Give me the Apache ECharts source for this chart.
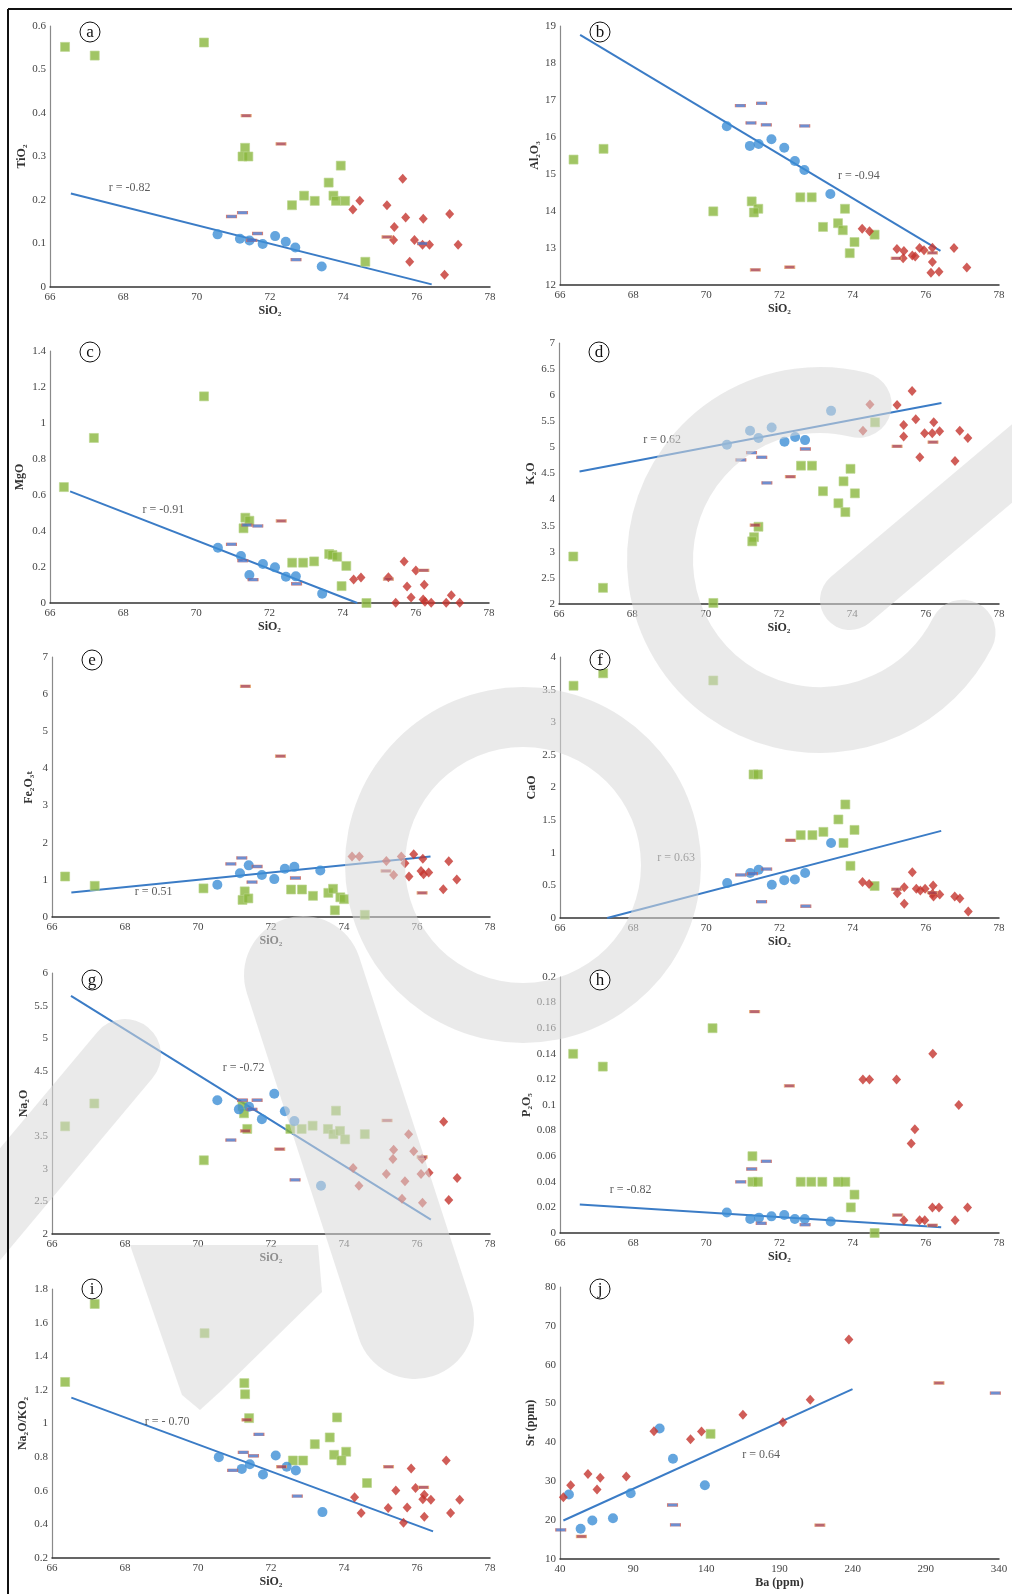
<!DOCTYPE html>
<html>
<head>
<meta charset="utf-8">
<script src="https://cdn.jsdelivr.net/npm/echarts@6/dist/echarts.min.js"></script>
<style>
html, body { margin: 0; padding: 0; background: #fff; }
#chart { width: 1012px; height: 1594px; }
</style>
</head>
<body>
<div id="chart"></div>
<script>
// ---- (a) TiO2 vs SiO2 ----
const aGreen = [[66.41,0.552],[67.22,0.532],[70.2,0.562],[71.32,0.32],[71.25,0.30],[71.41,0.30],[73.93,0.279],[73.6,0.24],[73.73,0.21],[73.8,0.198],[74.05,0.198],[72.93,0.21],[73.22,0.198],[72.6,0.188],[74.6,0.058]];
const aBlue = [[70.57,0.121],[71.18,0.111],[71.44,0.107],[71.8,0.099],[72.14,0.117],[72.43,0.104],[72.69,0.091],[73.41,0.047]];
const aRed = [[74.26,0.178],[74.45,0.198],[75.19,0.188],[75.62,0.249],[75.39,0.138],[75.7,0.16],[76.18,0.157],[76.9,0.168],[75.37,0.108],[75.94,0.108],[76.16,0.097],[76.35,0.097],[77.13,0.097],[75.81,0.058],[76.76,0.028]];
const aDashB = [[70.95,0.162],[71.25,0.171],[71.66,0.123],[71.5,0.107],[72.71,0.063],[76.16,0.10]];
const aDashR = [[71.35,0.394],[72.3,0.329],[75.19,0.115]];
const aTrend = [[66.57,0.215],[76.41,0.006]];
const aR = [67.6,0.229];

// ---- (b) Al2O3 ----
const bGreen = [[66.37,15.39],[67.19,15.68],[70.19,13.99],[71.24,14.26],[71.42,14.06],[71.3,13.96],[72.57,14.37],[72.88,14.37],[73.79,14.06],[73.19,13.57],[73.6,13.67],[73.73,13.48],[74.6,13.36],[74.05,13.16],[73.92,12.86]];
const bBlue = [[70.56,16.29],[71.19,15.76],[71.43,15.81],[71.78,15.94],[72.13,15.71],[72.42,15.35],[72.68,15.11],[73.39,14.46]];
const bRed = [[74.26,13.52],[74.46,13.45],[75.21,12.97],[75.4,12.92],[75.38,12.72],[75.63,12.8],[75.71,12.77],[75.83,13.0],[75.95,12.94],[76.18,13.01],[76.18,12.62],[76.14,12.33],[76.36,12.36],[76.77,13.0],[77.12,12.47]];
const bDashB = [[70.93,16.85],[71.51,16.91],[71.22,16.38],[71.64,16.33],[72.69,16.30]];
const bDashR = [[71.34,12.41],[72.28,12.48],[75.19,12.72],[76.18,12.87]];
const bTrend = [[66.55,18.76],[76.4,12.92]];
const bR = [73.6,14.96];

// ---- (c) MgO ----
const cGreen = [[66.38,0.644],[67.2,0.917],[70.21,1.148],[71.34,0.474],[71.45,0.457],[71.29,0.415],[72.62,0.224],[72.92,0.224],[73.22,0.231],[73.63,0.272],[73.72,0.267],[73.85,0.257],[74.1,0.206],[73.97,0.094],[74.65,0.0]];
const cBlue = [[70.59,0.307],[71.22,0.261],[71.45,0.156],[71.82,0.217],[72.15,0.198],[72.45,0.146],[72.72,0.148],[73.44,0.052]];
const cRed = [[74.3,0.13],[74.5,0.141],[75.25,0.143],[75.68,0.23],[76.0,0.18],[75.76,0.091],[76.23,0.102],[75.87,0.03],[75.45,0.002],[76.2,0.02],[76.25,0.007],[76.42,0.002],[76.83,0.002],[76.97,0.043],[77.2,0.002]];
const cDashB = [[70.96,0.326],[71.38,0.433],[71.68,0.428],[71.27,0.235],[71.55,0.13],[72.74,0.107]];
const cDashR = [[72.32,0.456],[75.25,0.133],[76.22,0.181]];
const cTrend = [[66.55,0.62],[74.4,0]];
const cR = [68.53,0.52];

// ---- (d) K2O ----
const dGreen = [[66.39,2.91],[67.2,2.31],[70.21,2.02],[71.44,3.48],[71.32,3.28],[71.27,3.2],[72.6,4.65],[72.9,4.65],[73.95,4.59],[73.76,4.35],[73.2,4.16],[74.07,4.12],[73.62,3.93],[73.81,3.76],[74.62,5.48]];
const dBlue = [[70.58,5.05],[71.21,5.32],[71.8,5.38],[71.44,5.18],[72.15,5.11],[72.44,5.2],[72.71,5.14],[73.42,5.7]];
const dRed = [[74.48,5.82],[74.29,5.32],[75.22,5.81],[75.63,6.08],[75.4,5.43],[75.4,5.21],[75.73,5.54],[76.22,5.48],[75.97,5.27],[76.18,5.27],[76.38,5.31],[75.84,4.81],[76.93,5.32],[77.15,5.18],[76.8,4.74]];
const dDashB = [[70.96,4.76],[71.25,4.9],[71.53,4.81],[71.67,4.32],[72.72,4.97]];
const dDashR = [[72.31,4.44],[71.35,3.51],[75.22,5.02],[76.2,5.1]];
const dTrend = [[66.56,4.54],[76.43,5.85]];
const dR = [68.3,5.14];

// ---- (e) Fe2O3T ----
const eGreen = [[66.36,1.09],[67.17,0.84],[70.15,0.77],[71.28,0.69],[71.22,0.46],[71.38,0.5],[72.55,0.74],[72.85,0.74],[73.15,0.57],[73.57,0.65],[73.7,0.76],[73.9,0.53],[74.0,0.48],[73.75,0.18],[74.57,0.06]];
const eBlue = [[70.53,0.87],[71.15,1.18],[71.39,1.39],[71.75,1.13],[72.09,1.02],[72.38,1.30],[72.64,1.35],[73.35,1.25]];
const eRed = [[74.22,1.63],[74.42,1.63],[75.16,1.51],[75.36,1.13],[75.57,1.63],[75.67,1.45],[75.78,1.09],[75.91,1.69],[76.16,1.57],[76.11,1.24],[76.18,1.15],[76.32,1.2],[76.87,1.5],[76.72,0.75],[77.09,1.01]];
const eDashB = [[70.9,1.43],[71.2,1.59],[71.62,1.36],[71.48,0.94],[72.67,1.05]];
const eDashR = [[71.3,6.21],[72.26,4.33],[75.15,1.24],[76.14,0.65]];
const eTrend = [[66.53,0.66],[76.37,1.63]];
const eR = [68.27,0.68];

// ---- (f) CaO ----
const fGreen = [[66.37,3.56],[67.18,3.75],[70.19,3.64],[71.29,2.2],[71.41,2.2],[72.58,1.27],[72.9,1.27],[73.2,1.32],[73.8,1.74],[73.61,1.51],[74.05,1.35],[73.75,1.15],[73.94,0.8],[74.6,0.49]];
const fBlue = [[70.57,0.535],[71.2,0.69],[71.43,0.74],[71.79,0.51],[72.13,0.58],[72.42,0.59],[72.7,0.69],[73.41,1.15]];
const fRed = [[74.27,0.55],[74.45,0.52],[75.22,0.38],[75.41,0.47],[75.41,0.22],[75.63,0.7],[75.74,0.45],[75.85,0.42],[75.98,0.45],[76.2,0.5],[76.18,0.37],[76.21,0.33],[76.38,0.36],[76.79,0.33],[76.93,0.3],[77.16,0.1]];
const fDashB = [[70.94,0.66],[71.26,0.68],[71.65,0.75],[71.51,0.25],[72.72,0.18]];
const fDashR = [[72.3,1.19],[75.2,0.44],[76.18,0.39]];
const fTrend = [[67.29,0],[76.42,1.335]];
const fR = [68.66,0.92];

// ---- (g) Na2O ----
const gGreen = [[66.36,3.65],[67.16,4.0],[70.16,3.13],[71.22,3.96],[71.26,3.85],[71.35,3.61],[72.53,3.61],[72.84,3.61],[73.14,3.66],[73.56,3.61],[73.71,3.53],[73.89,3.58],[73.78,3.89],[74.03,3.45],[74.57,3.53]];
const gBlue = [[70.53,4.05],[71.12,3.91],[71.4,3.95],[71.75,3.76],[72.09,4.15],[72.38,3.88],[72.64,3.73],[73.37,2.74]];
const gRed = [[74.25,3.01],[74.41,2.74],[75.16,2.92],[75.36,3.29],[75.34,3.15],[75.77,3.53],[75.91,3.27],[75.67,2.81],[75.59,2.54],[76.14,3.15],[76.11,2.92],[76.33,2.94],[76.15,2.48],[76.87,2.52],[76.73,3.72],[77.1,2.86]];
const gDashB = [[71.22,4.05],[71.62,4.05],[71.48,3.91],[70.9,3.44],[72.66,2.83]];
const gDashR = [[71.3,3.58],[72.24,3.3],[75.18,3.74],[76.14,3.18]];
const gTrend = [[66.52,5.65],[76.38,2.22]];
const gR = [70.68,4.54];

// ---- (h) P2O5 ----
const hGreen = [[66.36,0.14],[67.17,0.13],[70.17,0.16],[71.26,0.06],[71.26,0.04],[71.41,0.04],[72.58,0.04],[72.87,0.04],[73.17,0.04],[73.6,0.04],[73.8,0.04],[74.05,0.03],[73.95,0.02],[74.6,0.0]];
const hBlue = [[70.56,0.016],[71.2,0.011],[71.44,0.012],[71.78,0.013],[72.13,0.014],[72.42,0.011],[72.69,0.011],[73.4,0.009]];
const hRed = [[74.28,0.12],[74.46,0.12],[75.2,0.12],[76.19,0.14],[76.9,0.1],[75.7,0.081],[75.6,0.07],[76.18,0.02],[76.36,0.02],[77.14,0.02],[75.4,0.01],[75.83,0.01],[75.97,0.01],[76.8,0.01]];
const hDashB = [[70.94,0.04],[71.24,0.05],[71.64,0.056],[71.5,0.0075],[72.7,0.0065]];
const hDashR = [[71.32,0.173],[72.27,0.115],[75.23,0.014],[76.18,0.006]];
const hTrend = [[66.54,0.0223],[76.42,0.0044]];
const hR = [67.36,0.034];

// ---- (i) Na2O/K2O ----
const iGreen = [[66.36,1.247],[67.17,1.711],[70.18,1.537],[71.27,1.24],[71.29,1.174],[71.4,1.032],[72.6,0.78],[72.88,0.78],[73.2,0.877],[73.61,0.917],[73.81,1.036],[74.06,0.832],[73.73,0.814],[73.93,0.78],[74.63,0.646]];
const iBlue = [[70.57,0.8],[71.2,0.73],[71.42,0.758],[71.78,0.697],[72.13,0.81],[72.43,0.743],[72.68,0.721],[73.41,0.473]];
const iRed = [[74.29,0.562],[74.47,0.467],[75.21,0.497],[75.42,0.602],[75.84,0.733],[75.96,0.616],[75.73,0.501],[75.63,0.41],[76.2,0.576],[76.16,0.55],[76.38,0.547],[76.2,0.446],[76.8,0.78],[76.92,0.467],[77.17,0.547]];
const iDashB = [[71.67,0.935],[71.24,0.828],[71.52,0.808],[70.95,0.721],[72.72,0.568]];
const iDashR = [[71.34,1.022],[72.29,0.743],[75.22,0.743],[76.18,0.62]];
const iTrend = [[66.53,1.154],[76.44,0.358]];
const iR = [68.54,1.008];

// ---- (j) Sr vs Ba ----
const jGreen = [[142.9,42.2]];
const jBlue = [[46.1,26.6],[54.1,17.8],[62.1,19.9],[76.2,20.5],[88.3,26.9],[108.1,43.6],[117.2,35.8],[139.0,29.0]];
const jRed = [[42.3,25.9],[47.3,29.0],[59.1,31.9],[67.5,30.9],[65.3,27.9],[85.3,31.2],[104.2,42.9],[129.2,40.8],[136.7,42.8],[165.0,47.1],[192.3,45.2],[211.0,51.0],[237.4,66.5]];
const jDashB = [[40.5,17.5],[116.9,23.9],[118.9,18.8],[337.5,52.7]];
const jDashR = [[54.6,15.8],[217.6,18.7],[299.0,55.3]];
const jTrend = [[42.3,19.9],[239.9,53.7]];
const jR = [164.5,36.8];

const panelLetters = ['a','b','c','d','e','f','g','h','i','j'];
const yNames = ['TiO₂','Al₂O₃','MgO','K₂O','Fe₂O₃ₜ','CaO','Na₂O','P₂O₅','Na₂O/KO₂','Sr (ppm)'];
const xNames = ['SiO₂','SiO₂','SiO₂','SiO₂','SiO₂','SiO₂','SiO₂','SiO₂','SiO₂','Ba (ppm)'];
const rTexts = ['r = -0.82','r = -0.94','r = -0.91','r = 0.62','r = 0.51','r = 0.63','r = -0.72','r = -0.82','r = - 0.70','r = 0.64'];
// [min, max, interval]
const xRanges = [[66,78,2],[66,78,2],[66,78,2],[66,78,2],[66,78,2],[66,78,2],[66,78,2],[66,78,2],[66,78,2],[40,340,50]];
const yRanges = [[0,0.6,0.1],[12,19,1],[0,1.4,0.2],[2,7,0.5],[0,7,1],[0,4,0.5],[2,6,0.5],[0,0.2,0.02],[0.2,1.8,0.2],[10,80,10]];

const greens = [aGreen,bGreen,cGreen,dGreen,eGreen,fGreen,gGreen,hGreen,iGreen,jGreen];
const blues = [aBlue,bBlue,cBlue,dBlue,eBlue,fBlue,gBlue,hBlue,iBlue,jBlue];
const reds = [aRed,bRed,cRed,dRed,eRed,fRed,gRed,hRed,iRed,jRed];
const dashBs = [aDashB,bDashB,cDashB,dDashB,eDashB,fDashB,gDashB,hDashB,iDashB,jDashB];
const dashRs = [aDashR,bDashR,cDashR,dDashR,eDashR,fDashR,gDashR,hDashR,iDashR,jDashR];
const trends = [aTrend,bTrend,cTrend,dTrend,eTrend,fTrend,gTrend,hTrend,iTrend,jTrend];
const rPos = [aR,bR,cR,dR,eR,fR,gR,hR,iR,jR];

// layout (px): left, top, width, height, y-name gap, letter dy
const boxes = [
  [50, 26, 440, 261, 20, 6],
  [560, 26, 439, 259, 14, 6],
  [50, 351, 439, 252, 24, 1],
  [559, 343, 440, 261, 18, 9],
  [52, 657, 438, 260, 17, 3],
  [560, 657, 439, 261, 17, 3],
  [52, 973, 438, 261, 19, 7],
  [560, 977, 439, 256, 25, 3],
  [52, 1289, 438, 269, 23, 0],
  [560, 1287, 439, 272, 23, 2]
];

const serif = "'Liberation Serif', 'DejaVu Serif', serif";
// semi-transparent watermark laid over the plots (as in the scanned figure)
const wmColor = 'rgba(216,216,216,0.55)';

const chart = echarts.init(document.getElementById('chart'));

let grids = [], xAxes = [], yAxes = [], series = [], graphics = [];

boxes.forEach((b, i) => {
  grids.push({ left: b[0], top: b[1], width: b[2], height: b[3], outerBoundsMode: 'none' });
  xAxes.push({
    gridIndex: i, type: 'value',
    min: xRanges[i][0], max: xRanges[i][1], interval: xRanges[i][2],
    name: xNames[i], nameLocation: 'middle', nameGap: 18,
    nameTextStyle: { fontFamily: serif, fontWeight: 'bold', fontSize: 12, color: '#333' },
    splitLine: { show: false },
    axisTick: { show: false },
    axisLine: { lineStyle: { color: '#333', width: 1.5 } },
    axisLabel: { fontFamily: serif, fontSize: 11, color: '#444', margin: 5 }
  });
  yAxes.push({
    gridIndex: i, type: 'value',
    min: yRanges[i][0], max: yRanges[i][1], interval: yRanges[i][2],
    name: yNames[i], nameLocation: 'middle', nameGap: b[4],
    nameTextStyle: { fontFamily: serif, fontWeight: 'bold', fontSize: 12, color: '#333' },
    splitLine: { show: false },
    axisTick: { show: false },
    axisLine: { show: true, lineStyle: { color: '#8a8a8a', width: 1.2 } },
    axisLabel: { fontFamily: serif, fontSize: 11, color: '#444', margin: 4 }
  });

  series.push({
    type: 'line', xAxisIndex: i, yAxisIndex: i, data: trends[i],
    showSymbol: false, silent: true, z: 1,
    lineStyle: { color: '#3b7cc6', width: 2 }
  });
  series.push({
    type: 'scatter', xAxisIndex: i, yAxisIndex: i, data: greens[i], clip: false,
    symbol: 'rect', symbolSize: 9, z: 2,
    itemStyle: { color: '#8ab73d', borderColor: '#b9d58c', borderWidth: 0.8 }
  });
  series.push({
    type: 'scatter', xAxisIndex: i, yAxisIndex: i, data: blues[i], clip: false,
    symbol: 'circle', symbolSize: 10, z: 2,
    itemStyle: { color: '#3d8ed6' }
  });
  series.push({
    type: 'scatter', xAxisIndex: i, yAxisIndex: i, data: reds[i], clip: false,
    symbol: 'diamond', symbolSize: [9, 10], z: 2,
    itemStyle: { color: '#c4342e' }
  });
  series.push({
    type: 'scatter', xAxisIndex: i, yAxisIndex: i, data: dashBs[i], clip: false,
    symbol: 'rect', symbolSize: [10, 3], z: 3,
    itemStyle: { color: '#4a72c4', borderColor: '#d36b5f', borderWidth: 0.6 }
  });
  series.push({
    type: 'scatter', xAxisIndex: i, yAxisIndex: i, data: dashRs[i], clip: false,
    symbol: 'rect', symbolSize: [10, 3], z: 3,
    itemStyle: { color: '#a8404e', borderColor: '#eaa86c', borderWidth: 0.6 }
  });
  series.push({
    type: 'scatter', xAxisIndex: i, yAxisIndex: i, data: [rPos[i]], clip: false,
    symbolSize: 0, silent: true, z: 4,
    label: {
      show: true, position: 'right', distance: 0,
      formatter: rTexts[i], fontFamily: serif, fontSize: 12, color: '#333'
    }
  });

  // circled panel letter
  const cx = b[0] + 40, cy = b[1] + b[5];
  graphics.push({
    type: 'circle', shape: { cx: cx, cy: cy, r: 10 },
    style: { fill: '#fff', stroke: '#111', lineWidth: 1 }, z: 100
  });
  graphics.push({
    type: 'text', x: cx, y: cy + 1, z: 101,
    style: { text: panelLetters[i], fill: '#111', font: '17px ' + serif, align: 'center', verticalAlign: 'middle' }
  });
});

// watermark shapes (non-overlapping so the alpha stays even)
const wmStroke = (w) => ({ stroke: wmColor, lineWidth: w, fill: 'none', lineCap: 'round', lineJoin: 'round' });
graphics.push({ type: 'ring', shape: { cx: 523, cy: 865, r: 178, r0: 118 }, style: { fill: wmColor }, z: 90 });
graphics.push({
  type: 'arc', shape: { cx: 820, cy: 560, r: 160, startAngle: -76 * Math.PI / 180, endAngle: 27 * Math.PI / 180, clockwise: false },
  style: wmStroke(66), z: 90
});
graphics.push({ type: 'line', shape: { x1: 1040, y1: 440, x2: 850, y2: 600 }, style: wmStroke(60), z: 90 });
// J stem
graphics.push({ type: 'line', shape: { x1: 303, y1: 975, x2: 415, y2: 1320 }, style: wmStroke(118), z: 90 });
// J hook end
graphics.push({ type: 'polygon', shape: { points: [[130, 1245], [318, 1245], [322, 1292], [222, 1390], [200, 1410], [182, 1395]] }, style: { fill: wmColor }, z: 90 });
// I bar
graphics.push({ type: 'line', shape: { x1: 125, y1: 1055, x2: -30, y2: 1240 }, style: wmStroke(72), z: 90 });

// outer frame
graphics.push({ type: 'line', shape: { x1: 8, y1: 9, x2: 1012, y2: 9 }, style: { stroke: '#111', lineWidth: 2 }, z: 100 });
graphics.push({ type: 'line', shape: { x1: 8, y1: 9, x2: 8, y2: 1594 }, style: { stroke: '#111', lineWidth: 2 }, z: 100 });

chart.setOption({
  backgroundColor: '#fff',
  animation: false,
  grid: grids,
  xAxis: xAxes,
  yAxis: yAxes,
  series: series,
  graphic: graphics
});
</script>
</body>
</html>
